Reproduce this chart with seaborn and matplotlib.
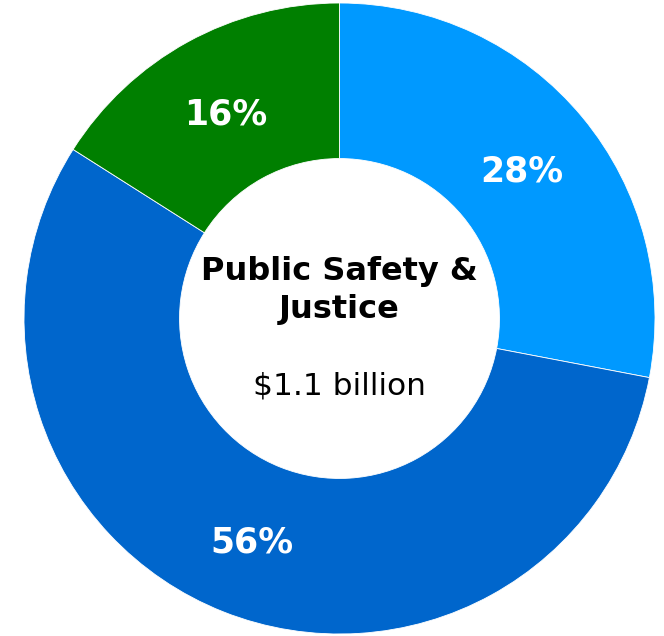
import matplotlib
matplotlib.use("Agg")
import matplotlib.pyplot as plt
import seaborn as sns

# Budget shares for the Public Safety & Justice area
segments = ["Segment A", "Segment B", "Segment C"]
shares = [28, 56, 16]
colors = ["#0099FF", "#0066CC", "#007F00"]
center_title = "Public Safety &\nJustice"
center_amount = "$1.1 billion"

sns.set_style("white")
plt.rcParams["font.family"] = ["DejaVu Sans"]

fig = plt.figure(figsize=(6.64, 6.36), dpi=100)
ax = fig.add_axes([0, 0, 1, 1])

wedges, texts, autotexts = ax.pie(
    shares,
    colors=colors,
    startangle=90,
    counterclock=False,
    radius=1.0,
    wedgeprops=dict(width=0.493, edgecolor="white", linewidth=0.6),
    autopct=lambda p: f"{round(p)}%",
    pctdistance=0.75,
    textprops=dict(color="white", fontsize=25, fontweight="bold"),
)
for t in autotexts:
    t.set_verticalalignment("center_baseline")

ax.text(0, 0.088, center_title, ha="center", va="center", fontsize=23,
        fontweight="bold", color="black", linespacing=1.3)
ax.text(0, -0.215, center_amount, ha="center", va="center", fontsize=22.5,
        color="black")

# one data unit equals the outer radius (about 315 px)
ax.set_xlim(-339.5 / 315.5, (664 - 339.5) / 315.5)
ax.set_ylim(-317.5 / 315.5, 318.5 / 315.5)
ax.set_aspect("equal")
ax.axis("off")

fig.savefig("out.png", dpi=100, facecolor="white")
